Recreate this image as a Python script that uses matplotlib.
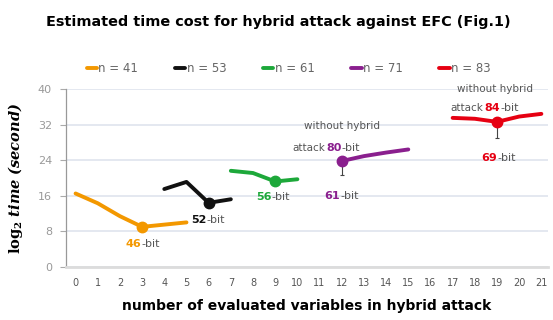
import matplotlib
matplotlib.use("Agg")
import matplotlib.pyplot as plt

plt.rcParams["font.family"] = ["DejaVu Sans"]
plt.rcParams["mathtext.fontset"] = "dejavuserif"

# log2 time (seconds) vs. number of evaluated variables, one series per n
x_41 = [0, 1, 2, 3, 4, 5]
y_41 = [16.5, 14.3, 11.4, 9.0, 9.5, 10.0]
x_53 = [4, 5, 6, 7]
y_53 = [17.5, 19.1, 14.4, 15.2]
x_61 = [7, 8, 9, 10]
y_61 = [21.6, 21.1, 19.2, 19.7]
x_71 = [12, 13, 14, 15]
y_71 = [23.8, 24.9, 25.7, 26.4]
x_83 = [17, 18, 19, 20, 21]
y_83 = [33.5, 33.3, 32.6, 33.8, 34.4]

series_labels = ["n = 41", "n = 53", "n = 61", "n = 71", "n = 83"]
colors = ["#F39800", "#111111", "#1DA83A", "#8A1F8E", "#E60012"]

# highlighted optimum per series: (index into series, security bits)
best_idx = [3, 2, 2, 0, 2]
best_bits = ["46", "52", "56", "61", "69"]
# cost without hybrid attack for n = 71 and n = 83
plain_bits = ["80", "84"]
# lower whiskers under the n = 71 and n = 83 optima
whisker_low = [20.6, 28.9]

x_ticks = list(range(0, 22))
y_ticks = [0, 8, 16, 24, 32, 40]

fig = plt.figure(figsize=(5.53, 3.2), dpi=100)
ax = fig.add_axes([0.119, 0.166, 0.872, 0.556])

xs = [x_41, x_53, x_61, x_71, x_83]
ys = [y_41, y_53, y_61, y_71, y_83]
for xv, yv, c, lab, bi in zip(xs, ys, colors, series_labels, best_idx):
    ax.plot(xv, yv, color=c, lw=2.8, solid_capstyle="round",
            solid_joinstyle="round", label=lab, zorder=3)
    ax.plot([xv[bi]], [yv[bi]], "o", color=c, ms=7.5, zorder=4)

for k, low in zip([3, 4], whisker_low):
    bx = xs[k][best_idx[k]]
    by = ys[k][best_idx[k]]
    ax.errorbar([bx], [by], yerr=[[by - low], [0]], fmt="none",
                ecolor="#444444", elinewidth=0.8, capsize=1.5,
                capthick=0.8, zorder=2)

ax.set_xlim(-0.44, 21.3)
ax.set_ylim(0, 40)
ax.set_xticks(x_ticks)
ax.set_xticklabels([str(v) for v in x_ticks])
ax.set_yticks(y_ticks)
ax.tick_params(axis="x", length=0, labelsize=7, labelcolor="#555555", pad=8)
ax.tick_params(axis="y", length=4, width=0.8, color="#aaaaaa",
               labelsize=8, labelcolor="#999999", pad=6)
ax.grid(axis="y", color="#dfe4ee", lw=1.2, zorder=0)
ax.set_axisbelow(True)
for s in ["top", "right"]:
    ax.spines[s].set_visible(False)
ax.spines["left"].set_color("#999999")
ax.spines["left"].set_linewidth(0.9)
ax.spines["bottom"].set_color("#dcdcdc")
ax.spines["bottom"].set_linewidth(2.0)


def bits_label(x, y, num, color, prefix=None, size=8):
    # bold coloured number right-aligned at x, grey "-bit" left-aligned at x
    ax.text(x, y, num, color=color, fontsize=size, fontweight="bold",
            ha="right", va="center", zorder=5, clip_on=False)
    ax.text(x, y, "-bit", color="#555555", fontsize=size, ha="left",
            va="center", zorder=5, clip_on=False)
    if prefix:
        ax.text(x - 0.75, y, prefix, color="#555555", fontsize=size - 0.5,
                ha="right", va="center", zorder=5, clip_on=False)


bits_label(2.98, 5.2, best_bits[0], colors[0])
bits_label(5.9, 10.6, best_bits[1], colors[1])
bits_label(8.85, 15.6, best_bits[2], colors[2])
bits_label(11.93, 15.9, best_bits[3], colors[3])
bits_label(19.0, 24.4, best_bits[4], colors[4])

ax.text(12.0, 31.6, "without hybrid", color="#555555", fontsize=7.5,
        ha="center", va="center", clip_on=False)
bits_label(12.0, 26.8, plain_bits[0], colors[3], prefix="attack")
ax.text(18.92, 40.0, "without hybrid", color="#555555", fontsize=7.5,
        ha="center", va="center", clip_on=False)
bits_label(19.15, 35.7, plain_bits[1], colors[4], prefix="attack")

ax.set_ylabel(r"$\mathbf{log_2}\ \mathbfit{time\ (second)}$", fontsize=10.5,
              labelpad=9)
ax.set_xlabel("number of evaluated variables in hybrid attack",
              fontsize=10, fontweight="bold", labelpad=8)

fig.text(0.503, 0.93, "Estimated time cost for hybrid attack against EFC (Fig.1)",
         ha="center", va="center", fontsize=10.4, fontweight="bold")

fig.legend(loc="center", bbox_to_anchor=(0.522, 0.787), ncol=5,
           frameon=False, fontsize=8.5, handlelength=0.9, handletextpad=0.1,
           columnspacing=3.1, labelcolor="#666666")

fig.savefig("out.png", dpi=100)
